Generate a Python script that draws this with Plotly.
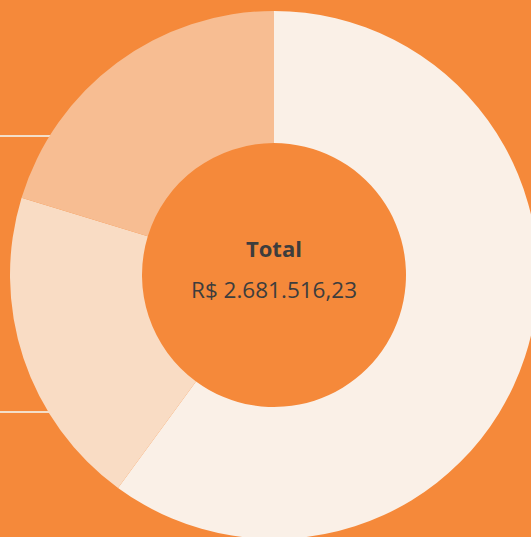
import plotly.graph_objects as go

# Data
labels = ["Categoria A", "Categoria B", "Categoria C"]
values = [1610520.45, 527450.30, 543545.48]
colors = ["#FAF0E7", "#F9DCC4", "#F7BD92"]
title_text = "Total"
total_text = "R$ 2.681.516,23"

W, H = 540, 540
BG = "#F5893A"

fig = go.Figure()
fig.add_trace(go.Pie(
    labels=labels,
    values=values,
    hole=0.5,
    sort=False,
    direction="clockwise",
    rotation=0,
    marker=dict(colors=colors, line=dict(width=0)),
    textinfo="none",
    hoverinfo="label+value+percent",
    showlegend=False,
    domain=dict(x=[10 / W, 538 / W], y=[1 / H, 529 / H]),
))

# decorative leader lines behind the donut
for ypx in (136, 412):
    fig.add_shape(type="line", xref="paper", yref="paper",
                  x0=0, x1=0.3, y0=1 - ypx / H, y1=1 - ypx / H,
                  line=dict(color="#F3DFC9", width=2), layer="below")

fig.add_annotation(x=274 / W, y=1 - 248 / H, xref="paper", yref="paper",
                   text="<b>" + title_text + "</b>", showarrow=False,
                   font=dict(family="Open Sans", size=22, color="#3D3D3D"))
fig.add_annotation(x=274 / W, y=1 - 289 / H, xref="paper", yref="paper",
                   text=total_text, showarrow=False,
                   font=dict(family="Open Sans", size=22.5, color="#3D3D3D"))

fig.update_layout(
    width=W, height=H, autosize=False,
    margin=dict(l=0, r=0, t=0, b=0),
    paper_bgcolor=BG, plot_bgcolor=BG,
)

fig.write_html("out.html", config={"displayModeBar": False},
               post_script="document.documentElement.style.overflow='hidden';document.body.style.overflow='hidden';document.body.style.margin='0';")
